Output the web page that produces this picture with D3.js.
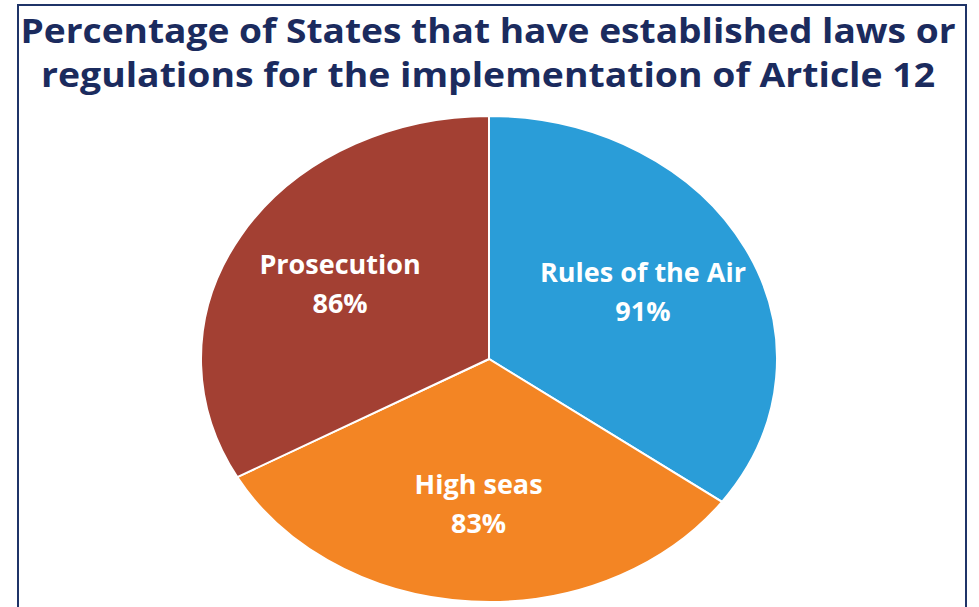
<!DOCTYPE html>
<html>
<head>
<meta charset="utf-8">
<script src="https://cdn.jsdelivr.net/npm/d3@7"></script>
<style>
  body { margin: 0; background: #fff; }
  svg { display: block; }
</style>
</head>
<body>
<script>
// data
const titleLines = ["Percentage of States that have established laws or",
                    "regulations for the implementation of Article 12"];
const categories = ["Rules of the Air", "High seas", "Prosecution"];
const values = [91, 83, 86];
const colors = ["#2a9dd8", "#f38524", "#a34033"];

init();

function init() {
  let width = 979, height = 607;
  let svg = d3.select("body").append("svg")
              .attr("width", width)
              .attr("height", height);

  // frame
  svg.append("rect")
     .attr("x", 18).attr("y", 5)
     .attr("width", 948).attr("height", 620)
     .attr("fill", "none")
     .attr("stroke", "#1f3468")
     .attr("stroke-width", 2);

  // title
  let tw = [935, 894];
  svg.selectAll(".title")
     .data(titleLines)
     .join("text")
     .attr("class", "title")
     .attr("x", 488)
     .attr("y", (d, i) => 43 + i * 44)
     .attr("text-anchor", "middle")
     .attr("textLength", (d, i) => tw[i])
     .attr("lengthAdjust", "spacingAndGlyphs")
     .style("font-family", "'Open Sans', sans-serif")
     .style("font-weight", "bold")
     .style("font-size", "34px")
     .style("fill", "#1b2b5e")
     .text(d => d);

  // pie, stretched into an ellipse
  let cx = 489, cy = 359, rx = 288, ry = 243;
  let pie = d3.pie().sort(null)(values);
  let arc = d3.arc().innerRadius(0).outerRadius(ry);
  let labelArc = d3.arc().innerRadius(ry * 0.6).outerRadius(ry * 0.6);

  let g = svg.append("g")
             .attr("transform", `translate(${cx},${cy})`);

  g.append("g")
   .attr("transform", `scale(${rx / ry},1)`)
   .selectAll("path")
   .data(pie)
   .join("path")
   .attr("d", arc)
   .attr("fill", (d, i) => colors[i])
   .attr("stroke", "#fff")
   .attr("stroke-width", 2)
   .attr("vector-effect", "non-scaling-stroke");

  let labels = g.selectAll(".lbl")
                .data(pie)
                .join("text")
                .attr("class", "lbl")
                .attr("transform", d => {
                  let c = labelArc.centroid(d);
                  return `translate(${c[0] * rx / ry},${c[1]})`;
                })
                .attr("text-anchor", "middle")
                .style("font-family", "'Open Sans', sans-serif")
                .style("font-weight", "bold")
                .style("font-size", "27px")
                .style("fill", "#fff");

  labels.append("tspan")
        .attr("x", 0).attr("y", -11)
        .text((d, i) => categories[i]);
  labels.append("tspan")
        .attr("x", 0).attr("y", 28)
        .text(d => d.value + "%");
}
</script>
</body>
</html>
